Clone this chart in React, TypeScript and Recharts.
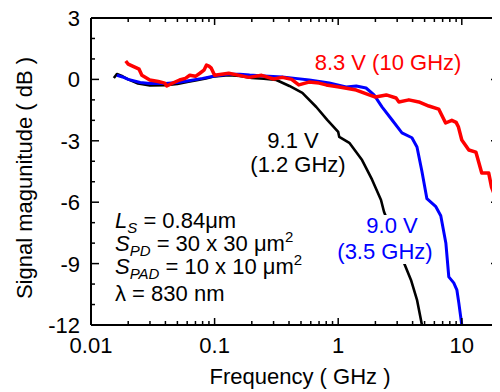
import React from "react";
import { LineChart, Line, XAxis, YAxis } from "recharts";

const FONT = "'Liberation Sans', Arial, Helvetica, sans-serif";

// Frequency (GHz) / magnitude (dB) for each bias
const blackFreq = [0.0153, 0.0162, 0.018, 0.02, 0.024, 0.03, 0.04, 0.05, 0.06, 0.07, 0.085, 0.1, 0.13, 0.16, 0.2, 0.25, 0.316, 0.403, 0.513, 0.665, 0.815, 1.0, 1.02, 1.23, 1.56, 1.88, 2.22, 2.35, 2.8, 3.1, 3.41, 3.88, 4.34, 4.76];
const blackDb = [0.07, 0.26, 0.15, 0.0, -0.2, -0.3, -0.28, -0.22, -0.12, -0.05, 0.05, 0.15, 0.2, 0.17, 0.07, 0.03, -0.03, -0.32, -0.66, -1.35, -1.98, -2.57, -2.81, -3.1, -3.94, -4.9, -5.89, -6.48, -7.6, -8.3, -8.97, -9.8, -10.77, -12];

const blueFreq = [0.0162, 0.018, 0.02, 0.025, 0.03, 0.04, 0.05, 0.06, 0.08, 0.1, 0.13, 0.16, 0.192, 0.25, 0.353, 0.45, 0.583, 0.846, 1.16, 1.4, 1.68, 1.95, 2.26, 2.72, 3.28, 3.95, 4.34, 4.76, 5.22, 6.17, 6.76, 7.43, 7.85, 8.61, 9.12, 9.46, 10.0];
const blueDb = [0.2, 0.12, 0.0, -0.15, -0.2, -0.2, -0.15, -0.08, 0.05, 0.17, 0.25, 0.25, 0.21, 0.17, 0.12, 0.05, -0.03, -0.18, -0.37, -0.32, -0.42, -0.76, -1.34, -1.97, -2.61, -2.85, -3.3, -4.5, -5.83, -6.22, -6.66, -7.99, -9.65, -9.94, -10.28, -10.92, -12];

const redFreq = [0.0191, 0.02, 0.0226, 0.0245, 0.0258, 0.0299, 0.035, 0.0395, 0.041, 0.045, 0.052, 0.058, 0.063, 0.07, 0.076, 0.082, 0.086, 0.09, 0.094, 0.1, 0.13, 0.19, 0.24, 0.3, 0.353, 0.42, 0.48, 0.58, 0.7, 0.8, 1.02, 1.4, 1.78, 2.0, 2.45, 2.94, 3.1, 3.73, 4.49, 5.41, 6.5, 7.4, 8.3, 9.0, 9.4, 10.0, 11.4, 13.0, 14.5, 16.5, 17.4, 19.1, 20.0];
const redDb = [0.9, 0.75, 0.6, 0.5, 0.2, -0.03, -0.1, -0.18, -0.32, -0.2, -0.03, 0.05, 0.2, 0.15, 0.3, 0.45, 0.7, 0.65, 0.55, 0.2, 0.3, 0.1, 0.2, 0.02, 0.1, 0.0, -0.27, -0.13, -0.18, -0.27, -0.37, -0.52, -0.76, -0.86, -0.76, -0.91, -1.1, -1.0, -1.1, -1.3, -1.45, -2.13, -2.0, -2.1, -2.33, -2.96, -3.45, -3.55, -4.57, -4.57, -5.26, -5.9, -6.6];

const xMajorTicks = [0.01, 0.1, 1, 10];
const xMinorTicks = [0.02, 0.03, 0.04, 0.05, 0.06, 0.07, 0.08, 0.09, 0.2, 0.3, 0.4, 0.5, 0.6, 0.7, 0.8, 0.9, 2, 3, 4, 5, 6, 7, 8, 9, 20];
const yMajorTicks = [-12, -9, -6, -3, 0, 3];
const yMinorTicks = [-11, -10, -8, -7, -5, -4, -2, -1, 1, 2];

const toRows = (f: number[], d: number[]) => f.map((v, i) => ({ f: v, db: d[i] }));
const blackData = toRows(blackFreq, blackDb);
const blueData = toRows(blueFreq, blueDb);
const redData = toRows(redFreq, redDb);

const xTicks = [...xMajorTicks, ...xMinorTicks].sort((a, b) => a - b);
const yTicks = [...yMajorTicks, ...yMinorTicks].sort((a, b) => a - b);

const isXMajor = (v: number) => xMajorTicks.some((m) => Math.abs(m - v) < 1e-9);
const isYMajor = (v: number) => yMajorTicks.includes(v);

const BottomTick = (p: any) => {
  const { x, y, payload } = p;
  const major = isXMajor(payload.value);
  return (
    <g>
      <line x1={x} x2={x} y1={y} y2={y - (major ? 7 : 4)} stroke="#000" strokeWidth={1.5} />
      {major && (
        <text x={x} y={y + 28} textAnchor="middle" fontSize={22} fontFamily={FONT} fill="#000">
          {String(payload.value)}
        </text>
      )}
    </g>
  );
};

const TopTick = (p: any) => {
  const { x, y, payload } = p;
  const major = isXMajor(payload.value);
  return <line x1={x} x2={x} y1={y} y2={y + (major ? 7 : 4)} stroke="#000" strokeWidth={1.5} />;
};

const LeftTick = (p: any) => {
  const { x, y, payload } = p;
  const major = isYMajor(payload.value);
  return (
    <g>
      <line x1={x} x2={x + (major ? 8 : 4)} y1={y} y2={y} stroke="#000" strokeWidth={1.5} />
      {major && (
        <text x={x - 11} y={y + 8} textAnchor="end" fontSize={22} fontFamily={FONT} fill="#000">
          {String(payload.value)}
        </text>
      )}
    </g>
  );
};

const RightTick = (p: any) => {
  const { x, y, payload } = p;
  const major = isYMajor(payload.value);
  return <line x1={x} x2={x - (major ? 8 : 4)} y1={y} y2={y} stroke="#000" strokeWidth={1.5} />;
};

const W = 492;
const H = 384;

export default function App() {
  return (
    <div style={{ position: "relative", width: W, height: H }}>
      <LineChart width={W} height={H} margin={{ top: 9, left: 82, right: 0, bottom: 66 }}>
        <XAxis
          xAxisId="b"
          type="number"
          dataKey="f"
          scale="log"
          domain={[0.01, 20]}
          ticks={xTicks}
          interval={0}
          allowDataOverflow
          height={1}
          tickSize={0}
          tickMargin={0}
          tickLine={false}
          tick={BottomTick}
          axisLine={{ stroke: "#000", strokeWidth: 2 }}
        />
        <XAxis
          xAxisId="t"
          orientation="top"
          type="number"
          dataKey="f"
          scale="log"
          domain={[0.01, 20]}
          ticks={xTicks}
          interval={0}
          allowDataOverflow
          height={1}
          tickSize={0}
          tickMargin={0}
          tickLine={false}
          tick={TopTick}
          axisLine={{ stroke: "#000", strokeWidth: 2 }}
        />
        <YAxis
          yAxisId="l"
          type="number"
          domain={[-12, 3]}
          ticks={yTicks}
          interval={0}
          allowDataOverflow
          width={1}
          tickSize={0}
          tickMargin={0}
          tickLine={false}
          tick={LeftTick}
          axisLine={{ stroke: "#000", strokeWidth: 2 }}
        />
        <YAxis
          yAxisId="r"
          orientation="right"
          type="number"
          domain={[-12, 3]}
          ticks={yTicks}
          interval={0}
          allowDataOverflow
          width={1}
          tickSize={0}
          tickMargin={0}
          tickLine={false}
          tick={RightTick}
          axisLine={{ stroke: "#000", strokeWidth: 2 }}
        />
        <Line xAxisId="b" yAxisId="l" data={blackData} dataKey="db" type="linear" stroke="#000000" strokeWidth={2.6} dot={false} isAnimationActive={false} strokeLinejoin="round" />
        <Line xAxisId="b" yAxisId="l" data={blueData} dataKey="db" type="linear" stroke="#0000ff" strokeWidth={3} dot={false} isAnimationActive={false} strokeLinejoin="round" />
        <Line xAxisId="b" yAxisId="l" data={redData} dataKey="db" type="linear" stroke="#ff0000" strokeWidth={3.5} dot={false} isAnimationActive={false} strokeLinejoin="round" />
      </LineChart>
      <svg width={W} height={H} style={{ position: "absolute", left: 0, top: 0, pointerEvents: "none" }} fontFamily={FONT}>
        <text x={16} y={162} transform="rotate(-90 24 162)" textAnchor="middle" fontSize={22} fill="#000">
          Signal magunitude ( dB )
        </text>
        <text x={292} y={376} textAnchor="middle" fontSize={22} fill="#000">
          Frequency ( GHz )
        </text>
        <text x={380} y={62} textAnchor="middle" fontSize={22} fill="#ff0000">8.3 V (10 GHz)</text>
        <text x={285} y={140} textAnchor="middle" fontSize={22} fill="#000">9.1 V</text>
        <text x={290} y={164} textAnchor="middle" fontSize={22} fill="#000">(1.2 GHz)</text>
        <rect x={328} y={207} width={98} height={49} fill="#fff" />
        <text x={384} y={225} textAnchor="middle" fontSize={22} fill="#0000ff">9.0 V</text>
        <text x={377} y={251} textAnchor="middle" fontSize={22} fill="#0000ff">(3.5 GHz)</text>
        <text x={107} y={220} fontSize={22} fill="#000">
          <tspan fontStyle="italic">L</tspan>
          <tspan fontStyle="italic" fontSize={15} dy={5}>S</tspan>
          <tspan dy={-5}> = 0.84μm</tspan>
        </text>
        <text x={107} y={243} fontSize={22} fill="#000">
          <tspan fontStyle="italic">S</tspan>
          <tspan fontStyle="italic" fontSize={15} dy={5}>PD</tspan>
          <tspan dy={-5}> = 30 x 30 μm</tspan>
          <tspan fontSize={15} dy={-9}>2</tspan>
        </text>
        <text x={107} y={266} fontSize={22} fill="#000">
          <tspan fontStyle="italic">S</tspan>
          <tspan fontStyle="italic" fontSize={15} dy={5}>PAD</tspan>
          <tspan dy={-5}> = 10 x 10 μm</tspan>
          <tspan fontSize={15} dy={-9}>2</tspan>
        </text>
        <text x={107} y={293} fontSize={22} fill="#000">λ = 830 nm</text>
      </svg>
    </div>
  );
}
